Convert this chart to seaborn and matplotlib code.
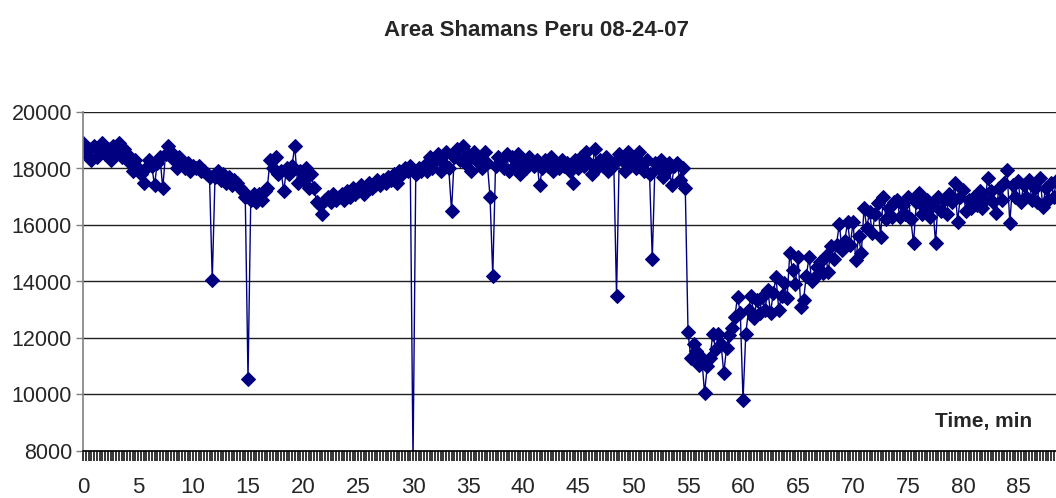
import numpy as np
import pandas as pd
import matplotlib
matplotlib.use("Agg")
import matplotlib.pyplot as plt
from matplotlib.ticker import MultipleLocator
import seaborn as sns

# Recording area over time, sampled every quarter minute (one row = one minute)
SAMPLE_MIN = 0.25
area = [
    18900, 18500, 18700, 18300,   # 0
    18800, 18400, 18600, 18900,   # 1
    18500, 18700, 18300, 18800,   # 2
    18600, 18900, 18400, 18700,   # 3
    18500, 18200, 17900, 18300,   # 4
    18000, 17800, 17500, 18000,   # 5
    18300, 18100, 17400, 18200,   # 6
    18400, 17300, 18500, 18800,   # 7
    18600, 18300, 18000, 18400,   # 8
    18200, 18000, 18200, 17900,   # 9
    18100, 18000, 18100, 17900,   # 10
    17900, 17800, 17700, 14050,   # 11
    17700, 17900, 17600, 17800,   # 12
    17500, 17700, 17400, 17600,   # 13
    17500, 17300, 17200, 17000,   # 14
    10550, 16900, 17100, 16800,   # 15
    17100, 16900, 17200, 17300,   # 16
    18300, 18000, 18400, 17800,   # 17
    17900, 17200, 18000, 17800,   # 18
    18100, 18800, 17500, 17900,   # 19
    17600, 18000, 17300, 17800,   # 20
    17300, 16800, 16700, 16400,   # 21
    16900, 17000, 16800, 17100,   # 22
    16900, 17000, 17100, 16900,   # 23
    17200, 17000, 17300, 17100,   # 24
    17200, 17400, 17100, 17300,   # 25
    17500, 17300, 17400, 17600,   # 26
    17400, 17600, 17500, 17700,   # 27
    17600, 17800, 17500, 17900,   # 28
    17800, 18000, 17900, 18100,   # 29
    7600, 17800, 18000, 17900,    # 30
    18100, 17900, 18400, 18000,   # 31
    18300, 18500, 17900, 18200,   # 32
    18600, 18000, 16500, 18400,   # 33
    18700, 18300, 18800, 18200,   # 34
    18500, 17900, 18600, 18300,   # 35
    18400, 18000, 18600, 18200,   # 36
    17000, 14200, 18100, 18400,   # 37
    18300, 18000, 18500, 17900,   # 38
    18400, 18100, 18500, 17800,   # 39
    18300, 18000, 18400, 18200,   # 40
    18100, 18300, 17400, 18000,   # 41
    18300, 18100, 18400, 17900,   # 42
    18200, 18000, 18300, 18100,   # 43
    18200, 17900, 17500, 18300,   # 44
    18000, 18400, 18100, 18600,   # 45
    18200, 17800, 18700, 18000,   # 46
    18300, 18100, 18400, 17900,   # 47
    18000, 18200, 13500, 18500,   # 48
    18300, 17900, 18600, 18100,   # 49
    18400, 18000, 18600, 18200,   # 50
    17900, 18300, 17800, 14800,   # 51
    18200, 18000, 18300, 17700,   # 52
    17900, 18200, 17400, 18100,   # 53
    18200, 17600, 18000, 17300,   # 54
    12200, 11300, 11800, 11550,   # 55
    11050, 11300, 10050, 11000,   # 56
    11300, 12150, 11600, 12150,   # 57
    11800, 10750, 11650, 12100,   # 58
    12350, 12750, 13450, 12900,   # 59
    9800, 12150, 13000, 13500,    # 60
    12700, 13350, 12900, 13450,   # 61
    13000, 13700, 12900, 13600,   # 62
    14150, 13000, 13500, 13950,   # 63
    13400, 15000, 14400, 13900,   # 64
    14850, 13100, 13350, 14200,   # 65
    14850, 14000, 14150, 14500,   # 66
    14700, 14300, 14900, 14350,   # 67
    15250, 14800, 15300, 16050,   # 68
    15100, 15450, 16100, 15300,   # 69
    16100, 14750, 15600, 15000,   # 70
    16600, 15900, 16470, 15700,   # 71
    16400, 16770, 15590, 17000,   # 72
    16200, 16600, 16300, 16800,   # 73
    16890, 16300, 16700, 16400,   # 74
    17000, 16200, 15350, 16800,   # 75
    17130, 16400, 16600, 16900,   # 76
    16300, 16700, 15350, 17000,   # 77
    16500, 16900, 16400, 17100,   # 78
    16800, 17480, 16120, 17000,   # 79
    17240, 16500, 16900, 16600,   # 80
    17000, 16700, 17200, 16600,   # 81
    16900, 17650, 17200, 16800,   # 82
    16420, 17300, 16900, 17500,   # 83
    17950, 16070, 17400, 17000,   # 84
    17540, 16800, 17400, 17000,   # 85
    17600, 16900, 17300, 16800,   # 86
    17670, 16650, 17300, 16900,   # 87
    17500, 17000, 17600,          # 88
]
y_ticks = [8000, 10000, 12000, 14000, 16000, 18000, 20000]
x_ticks = list(range(0, 90, 5))

df = pd.DataFrame({"time": np.arange(len(area)) * SAMPLE_MIN, "area": area})

sns.set_style("white")
plt.rcParams["font.family"] = ["Liberation Sans Narrow", "Liberation Sans", "DejaVu Sans"]

NAVY = "#000080"
fig = plt.figure(figsize=(10.56, 4.98), dpi=100)
ax = fig.add_axes([83 / 1056, 47 / 498, 1 - 83 / 1056, 339 / 498])

sns.lineplot(data=df, x="time", y="area", ax=ax, color=NAVY, linewidth=1.0,
             marker="D", markersize=6.8, markeredgecolor=NAVY,
             markerfacecolor=NAVY, estimator=None, sort=False)

ax.set_xlim(0, 88.45)
ax.set_ylim(8000, 20000)
ax.set_yticks(y_ticks)
ax.set_yticklabels([str(v) for v in y_ticks])
ax.set_xticks(x_ticks)
ax.set_xticklabels([str(v) for v in x_ticks])
ax.xaxis.set_minor_locator(MultipleLocator(SAMPLE_MIN))

ax.grid(axis="y", color="#202020", linewidth=1.0)
ax.grid(axis="x", visible=False)
ax.set_axisbelow(True)

for side in ("top", "right"):
    ax.spines[side].set_visible(False)
ax.spines["left"].set_color("#808080")
ax.spines["left"].set_linewidth(1.2)
ax.spines["bottom"].set_color("black")
ax.spines["bottom"].set_linewidth(1.2)

ax.tick_params(axis="y", which="major", direction="out", length=5, width=1,
               color="#808080", labelsize=15.5, pad=3, left=True)
ax.tick_params(axis="x", which="both", direction="out", length=7, width=1.1,
               color="black", bottom=True)
ax.tick_params(axis="x", which="major", labelsize=16, pad=12)

ax.set_xlabel("")
ax.set_ylabel("")
ax.text(0.975, 0.06, "Time, min", transform=ax.transAxes, ha="right",
        va="bottom", fontsize=15, fontweight="bold")

fig.text(537 / 1056, 1 - 30 / 498, "Area Shamans Peru 08-24-07", ha="center",
         va="center", fontsize=16, fontweight="bold")

fig.savefig("out.png", dpi=100)
